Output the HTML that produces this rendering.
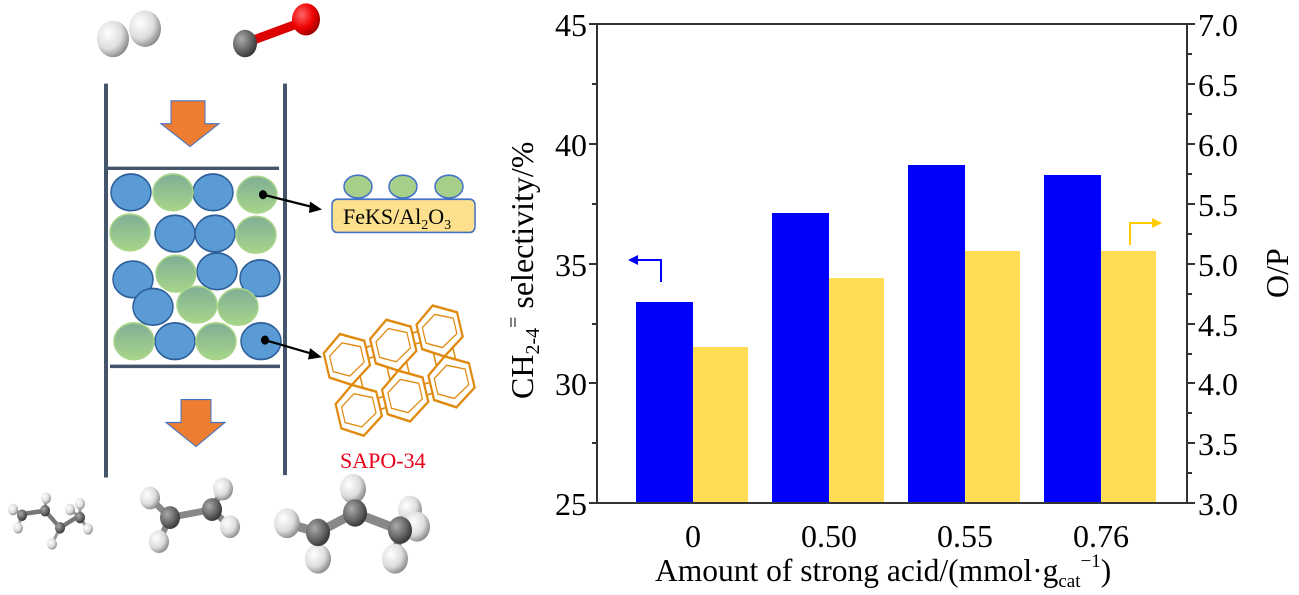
<!DOCTYPE html>
<html><head><meta charset="utf-8"><style>
body{margin:0;background:#fff;}
svg{display:block;font-family:"Liberation Serif",serif;}
</style></head><body>
<svg width="1299" height="595" viewBox="0 0 1299 595">
<defs>
<radialGradient id="w" cx="0.35" cy="0.35" r="0.7"><stop offset="0" stop-color="#fff"/><stop offset="0.6" stop-color="#ddd"/><stop offset="1" stop-color="#888"/></radialGradient>
<radialGradient id="g" cx="0.35" cy="0.35" r="0.7"><stop offset="0" stop-color="#aaa"/><stop offset="0.6" stop-color="#666"/><stop offset="1" stop-color="#333"/></radialGradient>
<radialGradient id="r" cx="0.35" cy="0.35" r="0.7"><stop offset="0" stop-color="#f66"/><stop offset="0.6" stop-color="#e00"/><stop offset="1" stop-color="#900"/></radialGradient>
<linearGradient id="gr" x1="0" y1="0" x2="0" y2="1"><stop offset="0" stop-color="#7fae96"/><stop offset="1" stop-color="#a8d58a"/></linearGradient>
</defs>
<g transform="scale(1,1.145)">
<!-- molecules top -->
<circle cx="113" cy="34" r="16" fill="url(#w)"/><circle cx="145" cy="25" r="16" fill="url(#w)"/>
<line x1="247" y1="37" x2="300" y2="20" stroke="#d00" stroke-width="8"/>
<circle cx="245" cy="38" r="12" fill="url(#g)"/><circle cx="306" cy="17" r="14" fill="url(#r)"/>
<!-- reactor -->
<g stroke="#44546a" stroke-width="4"><line x1="106" y1="73" x2="106" y2="417"/><line x1="285" y1="73" x2="285" y2="415"/>
<line x1="108" y1="147" x2="279" y2="147" stroke-width="3"/><line x1="110" y1="320" x2="280" y2="320" stroke-width="3"/></g>
<polygon points="171,88 205,88 205,108 219,108 190,128 161,108 171,108" fill="#ed7d31" stroke="#4472c4"/>
<polygon points="181,349 211,349 211,369 225,369 196,390 166,369 181,369" fill="#ed7d31" stroke="#4472c4"/>
<g stroke-width="1.5">
<g fill="#5b9bd5" stroke="#2e5f99">
<ellipse cx="131" cy="168" rx="20" ry="16"/><ellipse cx="213" cy="168" rx="20" ry="16"/>
<ellipse cx="175" cy="204" rx="20" ry="16"/><ellipse cx="215" cy="204" rx="20" ry="16"/>
<ellipse cx="133" cy="244" rx="20" ry="16"/><ellipse cx="217" cy="237" rx="20" ry="16"/><ellipse cx="260" cy="243" rx="20" ry="16"/>
<ellipse cx="153" cy="268" rx="20" ry="16"/>
<ellipse cx="175" cy="298" rx="20" ry="16"/><ellipse cx="261" cy="298" rx="20" ry="16"/></g>
<g fill="url(#gr)" stroke="#a8d58a">
<ellipse cx="173" cy="168" rx="20" ry="16"/><ellipse cx="257" cy="170" rx="20" ry="16"/>
<ellipse cx="130" cy="203" rx="20" ry="16"/><ellipse cx="256" cy="205" rx="20" ry="16"/>
<ellipse cx="176" cy="239" rx="20" ry="16"/><ellipse cx="197" cy="266" rx="20" ry="16"/><ellipse cx="238" cy="268" rx="20" ry="16"/>
<ellipse cx="134" cy="298" rx="20" ry="16"/><ellipse cx="216" cy="298" rx="20" ry="16"/></g>
</g>
<circle cx="263" cy="170" r="4"/><line x1="263" y1="170" x2="318" y2="182" stroke="#000" stroke-width="2"/><polygon points="322,183 310,176 309,186"/>
<circle cx="265" cy="297" r="4"/><line x1="265" y1="297" x2="316" y2="310" stroke="#000" stroke-width="2"/><polygon points="322,312 310,304 308,314"/>
<!-- FeKS -->
<g fill="#a6d08a" stroke="#4472c4" stroke-width="1.5"><ellipse cx="358" cy="163" rx="14" ry="10"/><ellipse cx="403" cy="163" rx="14" ry="10"/><ellipse cx="449" cy="163" rx="14" ry="10"/></g>
<rect x="332" y="174" width="143" height="29" rx="5" fill="#fde08e" stroke="#4472c4" stroke-width="1.5"/>
<!-- SAPO -->
<g fill="none" stroke="#e08a10" stroke-width="2.2">
<g transform="rotate(-15 397 323)">
<polygon points="330,290 350,278 372,290 372,312 350,324 330,312"/><polygon points="378,290 398,278 420,290 420,312 398,324 378,312"/><polygon points="426,290 446,278 468,290 468,312 446,324 426,312"/>
<polygon points="330,336 350,324 372,336 372,358 350,370 330,358"/><polygon points="378,336 398,324 420,336 420,358 398,370 378,358"/><polygon points="426,336 446,324 468,336 468,358 446,370 426,358"/>
<polygon points="335,294 350,286 367,294 367,308 350,316 335,308" stroke-width="1.2"/><polygon points="383,294 398,286 415,294 415,308 398,316 383,308" stroke-width="1.2"/><polygon points="431,294 446,286 463,294 463,308 446,316 431,308" stroke-width="1.2"/>
<polygon points="335,340 350,332 367,340 367,354 350,362 335,354" stroke-width="1.2"/><polygon points="383,340 398,332 415,340 415,354 398,362 383,354" stroke-width="1.2"/><polygon points="431,340 446,332 463,340 463,354 446,362 431,354" stroke-width="1.2"/>
<path d="M372,296h6M372,306h6M420,296h6M420,306h6M372,342h6M372,352h6M420,342h6M420,352h6M360,318v12M388,318v12M408,318v12M436,318v12M456,318v12" stroke-width="1.5"/>
</g></g>
<!-- bottom molecules: butane -->
<g stroke="#777" stroke-width="4" fill="none"><polyline points="22,449 45,446 60,461 80,450"/></g>
<g stroke="#999" stroke-width="3" fill="none"><path d="M13,445L22,449M18,461L22,449M46,435L45,446M52,475L60,461M70,445L80,452M88,462L80,452M80,440L80,452"/></g>
<g fill="url(#w)"><circle cx="13" cy="445" r="5"/><circle cx="18" cy="461" r="5"/><circle cx="46" cy="435" r="5"/><circle cx="52" cy="475" r="5"/><circle cx="70" cy="445" r="5"/><circle cx="80" cy="440" r="5"/><circle cx="88" cy="462" r="5"/></g>
<g fill="url(#g)"><circle cx="22" cy="450" r="5"/><circle cx="45" cy="446" r="5"/><circle cx="60" cy="461" r="5"/><circle cx="80" cy="452" r="5"/></g>
<!-- ethylene -->
<g stroke="#888" stroke-width="6" fill="none"><path d="M170,452L212,445M150,435L170,452M159,473L170,452M223,427L212,445M230,460L212,445"/></g>
<g fill="url(#w)"><circle cx="150" cy="435" r="10"/><circle cx="159" cy="473" r="10"/><circle cx="223" cy="427" r="10"/><circle cx="230" cy="460" r="10"/></g>
<g fill="url(#g)"><circle cx="170" cy="452" r="10"/><circle cx="212" cy="445" r="10"/></g>
<!-- propylene -->
<g stroke="#888" stroke-width="8" fill="none"><path d="M318,465L355,448L400,463M287,457L318,465M318,488L318,465M353,427L355,448M417,457L400,463M410,445L400,463M395,488L400,463"/></g>
<g fill="url(#w)"><circle cx="287" cy="457" r="13"/><circle cx="318" cy="488" r="13"/><circle cx="353" cy="427" r="13"/><circle cx="410" cy="445" r="12"/><circle cx="417" cy="460" r="13"/><circle cx="395" cy="488" r="13"/></g>
<g fill="url(#g)"><circle cx="318" cy="465" r="12"/><circle cx="355" cy="448" r="12"/><circle cx="400" cy="463" r="12"/></g>
</g>
<text x="343" y="224" font-size="22">FeKS/Al<tspan font-size="14" dy="5">2</tspan><tspan dy="-5">O</tspan><tspan font-size="14" dy="5">3</tspan></text>
<text x="340" y="468" font-size="22" fill="#e8001a">SAPO-34</text>
<!-- chart bars -->
<g fill="#0000fb"><rect x="636" y="302" width="57" height="201"/><rect x="772" y="213" width="57" height="290"/><rect x="908" y="165" width="57" height="338"/><rect x="1044" y="175" width="57" height="328"/></g>
<g fill="#ffdd55"><rect x="693" y="347" width="55" height="156"/><rect x="829" y="278" width="55" height="225"/><rect x="965" y="251" width="55" height="252"/><rect x="1101" y="251" width="55" height="252"/></g>
<!-- axes -->
<g stroke="#333" stroke-width="2" fill="none">
<rect x="597" y="24" width="590" height="479"/>
<path d="M589,24h8M589,144h8M589,264h8M589,383h8M589,503h8M592,84h5M592,204h5M592,324h5M592,443h5"/>
<path d="M1187,24h8M1187,84h8M1187,144h8M1187,204h8M1187,264h8M1187,324h8M1187,383h8M1187,443h8M1187,503h8M1187,54h5M1187,114h5M1187,174h5M1187,234h5M1187,294h5M1187,354h5M1187,413h5M1187,473h5"/>
</g>
<g font-size="32" text-anchor="end"><text x="587" y="36">45</text><text x="587" y="156">40</text><text x="587" y="276">35</text><text x="587" y="395">30</text><text x="587" y="515">25</text></g>
<g font-size="32"><text x="1198" y="36">7.0</text><text x="1198" y="96">6.5</text><text x="1198" y="156">6.0</text><text x="1198" y="216">5.5</text><text x="1198" y="276">5.0</text><text x="1198" y="336">4.5</text><text x="1198" y="395">4.0</text><text x="1198" y="455">3.5</text><text x="1198" y="515">3.0</text></g>
<g font-size="32" text-anchor="middle"><text x="693" y="547">0</text><text x="829" y="547">0.50</text><text x="965" y="547">0.55</text><text x="1101" y="547">0.76</text></g>
<text x="655" y="581" font-size="31.5">Amount of strong acid/(mmol·g<tspan font-size="19" dy="6">cat</tspan><tspan font-size="19" dy="-20">−1</tspan><tspan dy="14" font-size="31.5">)</tspan></text>
<text transform="translate(533,399) rotate(-90)" font-size="32">CH<tspan font-size="20" dy="6">2-4</tspan><tspan font-size="20" dy="-19">=</tspan><tspan dy="13"> selectivity/%</tspan></text>
<text transform="translate(1288,298) rotate(-90)" font-size="32">O/P</text>
<!-- indicator arrows -->
<path d="M661,282V260H636" stroke="#0000fb" stroke-width="2" fill="none"/><polygon points="628,260 638,255 638,265" fill="#0000fb"/>
<path d="M1130,245V223H1154" stroke="#fc0" stroke-width="2" fill="none"/><polygon points="1162,223 1152,218 1152,228" fill="#fc0"/>
</svg>
</body></html>
